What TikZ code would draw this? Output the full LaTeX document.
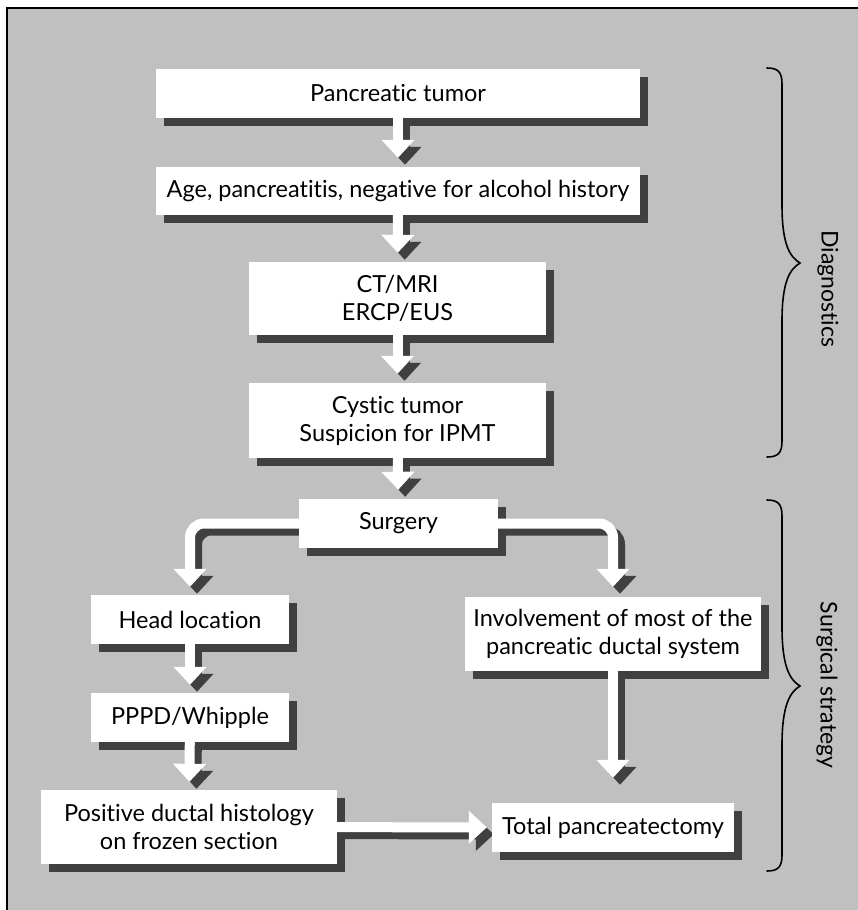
\documentclass[tikz,border=0pt]{standalone}
\usepackage{fontspec}
\setmainfont{Lato}[Ligatures={NoCommon}]
\usetikzlibrary{arrows.meta,positioning}
\definecolor{panelgray}{RGB}{192,192,192}
\definecolor{shadowgray}{RGB}{64,64,64}
\pgfdeclarelayer{panel}
\pgfdeclarelayer{shade}
\pgfdeclarelayer{wire}
\pgfsetlayers{panel,shade,wire,main}
\newcommand{\fatarrow}[2][]{%
  \draw[arrow, shadowgray, transform canvas={xshift=7pt,yshift=-7pt}, #1] #2;
  \draw[arrow, white, #1] #2;}

\begin{document}
\begin{tikzpicture}[
    x=1pt, y=-1pt,
    box/.style={rectangle, fill=white, inner sep=0pt, align=center, font=\fontsize{23.5}{28}\selectfont, minimum height=49pt},
    arrow/.style={line width=10pt, -{Triangle[length=18pt,width=32pt]}},
    brace/.style={line width=1.6pt, line cap=round},
    side/.style={rotate=-90, font=\fontsize{23}{28}\selectfont}
]
    \useasboundingbox (0,0) rectangle (857,910);
    \begin{pgfonlayer}{panel}
    \draw[line width=2pt, fill=panelgray] (7,8) rectangle (900,950);
    \end{pgfonlayer}

    \node[box, minimum width=484pt] (tumor) at (398,93.5) {Pancreatic tumor};
    \node[box, minimum width=484pt, minimum height=48pt] (history) at (398,191) {Age, pancreatitis, negative for alcohol history};
    \node[box, minimum width=297pt, minimum height=73pt] (imaging) at (397.5,298.5) {CT/MRI\\ERCP/EUS};
    \node[box, minimum width=297pt, minimum height=75pt] (cystic) at (397.5,420.5) {Cystic tumor\\Suspicion for IPMT};
    \node[box, minimum width=199pt] (surgery) at (398.5,523.5) {Surgery};
    \node[box, minimum width=198pt] (head) at (190,619.5) {Head location};
    \node[box, minimum width=198pt] (pppd) at (190,717.5) {PPPD/Whipple};
    \node[box, minimum width=296pt, minimum height=74pt] (frozen) at (189,827) {Positive ductal histology\\on frozen section};
    \node[box, minimum width=296pt, minimum height=74pt] (involve) at (613,634) {Involvement of most of the\\pancreatic ductal system};
    \node[box, minimum width=242pt] (total) at (613,827.5) {Total pancreatectomy};

    \begin{pgfonlayer}{shade}
    \foreach \n in {tumor,history,imaging,cystic,surgery,head,pppd,frozen,involve,total}
        \fill[shadowgray] ([shift={(8,8)}]\n.north west) rectangle ([shift={(8,8)}]\n.south east);
    \end{pgfonlayer}

    \begin{pgfonlayer}{wire}
    \fatarrow[shorten >=9pt]{(tumor) -- (history)}
    \fatarrow[shorten >=9pt]{(history) -- (imaging)}
    \fatarrow[shorten >=9pt]{(imaging) -- (cystic)}
    \fatarrow[shorten >=9pt]{(cystic) -- (surgery)}
    \fatarrow[shorten >=8pt, rounded corners=14pt]{(surgery.west) -| (head.north)}
    \fatarrow[shorten >=10pt, rounded corners=14pt]{(surgery.east) -| (involve.north)}
    \fatarrow[shorten >=8pt]{(head) -- (pppd)}
    \fatarrow[shorten >=8pt]{(pppd) -- (frozen)}
    \fatarrow[shorten >=25pt]{(involve) -- (total)}
    \fatarrow[shorten >=5pt]{(frozen) -- (total)}
    \end{pgfonlayer}

    % braces
    \draw[brace] (767,68) .. controls (778,68) and (782,72) .. (782,84) -- (782,205)
        .. controls (782,245) and (790,257) .. (800,263)
        .. controls (790,269) and (782,281) .. (782,321) -- (782,441)
        .. controls (782,453) and (778,457) .. (767,457);
    \draw[brace] (767,500) .. controls (778,500) and (782,504) .. (782,516) -- (782,627)
        .. controls (782,667) and (790,680) .. (800,686)
        .. controls (790,692) and (782,705) .. (782,745) -- (782,855)
        .. controls (782,867) and (778,871) .. (767,871);
    \node[side] (diaglabel) at (828,289) {Diagnostics};
    \node[side] (surglabel) at (827,685) {Surgical strategy};
\end{tikzpicture}
\end{document}
